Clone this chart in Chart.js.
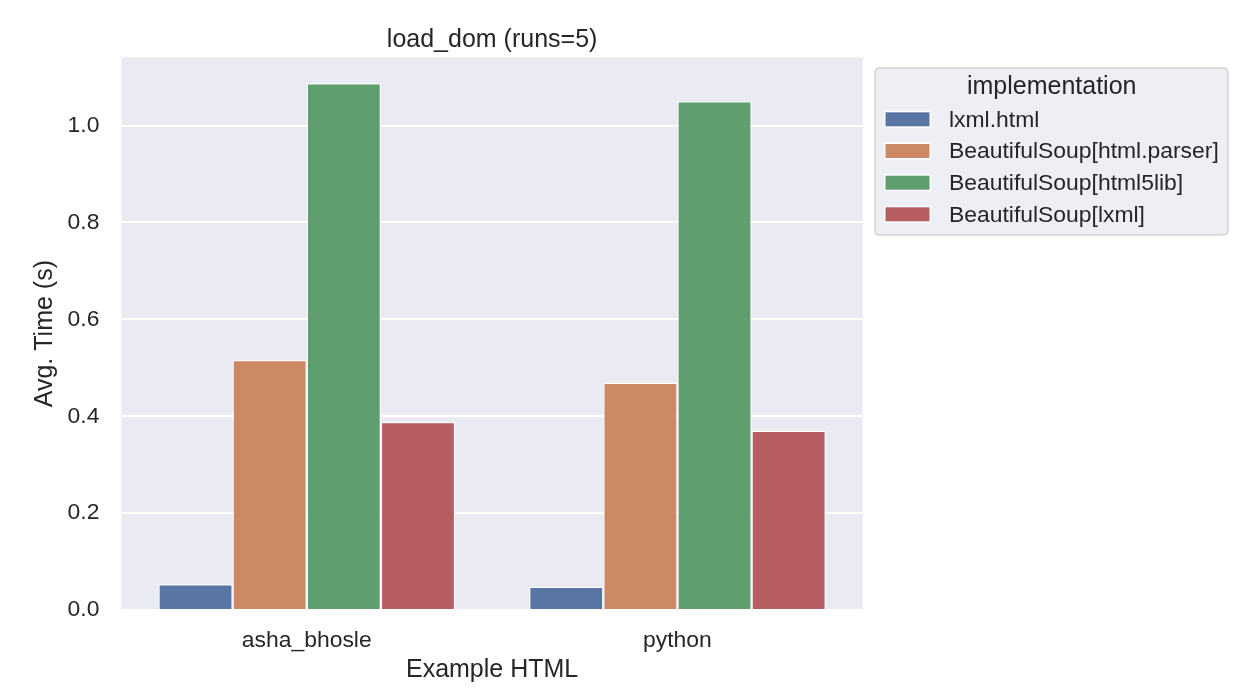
<!DOCTYPE html>
<html>
<head>
<meta charset="utf-8">
<script src="https://cdn.jsdelivr.net/npm/chart.js@4"></script>
<style>
  html, body { margin: 0; padding: 0; background: #ffffff; }
  canvas { display: block; }
</style>
</head>
<body>
<canvas id="c" width="1245" height="690"></canvas>
<script>
const categories = ['asha_bhosle', 'python'];
const seriesNames = ['lxml.html', 'BeautifulSoup[html.parser]', 'BeautifulSoup[html5lib]', 'BeautifulSoup[lxml]'];
const lxmlHtml = [0.053, 0.048];
const bsHtmlParser = [0.516, 0.469];
const bsHtml5lib = [1.0875, 1.050];
const bsLxml = [0.388, 0.370];
const yTicks = [0.0, 0.2, 0.4, 0.6, 0.8, 1.0];
const chartTitle = 'load_dom (runs=5)';
const xTitle = 'Example HTML';
const yTitle = 'Avg. Time (s)';
const legendTitle = 'implementation';
const colors = ['#5975A4', '#CC8963', '#5F9E6E', '#B55D60'];

const FONT = '"Liberation Sans", Arial, sans-serif';
const TXT = '#262626';

const seriesValues = [lxmlHtml, bsHtmlParser, bsHtml5lib, bsLxml];

const decorPlugin = {
  id: 'decor',
  beforeDraw(chart) {
    const { ctx, chartArea: a } = chart;
    ctx.save();
    ctx.fillStyle = '#EAEAF2';
    ctx.fillRect(a.left, a.top, a.right - a.left, a.bottom - a.top);
    ctx.restore();
  },
  afterDraw(chart) {
    const { ctx, chartArea: a } = chart;
    const cx = (a.left + a.right) / 2;
    ctx.save();
    ctx.fillStyle = TXT;
    // title
    ctx.font = '25px ' + FONT;
    ctx.textAlign = 'center';
    ctx.textBaseline = 'alphabetic';
    ctx.fillText(chartTitle, cx, 46.5);
    // x title
    ctx.fillText(xTitle, cx, 676.5);
    // y title
    ctx.save();
    ctx.translate(52.3, (a.top + a.bottom) / 2);
    ctx.rotate(-Math.PI / 2);
    ctx.fillText(yTitle, 0, 0);
    ctx.restore();

    // legend
    const lx = 875, ly = 68, lw = 353, lh = 167, r = 5;
    ctx.beginPath();
    ctx.moveTo(lx + r, ly);
    ctx.lineTo(lx + lw - r, ly);
    ctx.quadraticCurveTo(lx + lw, ly, lx + lw, ly + r);
    ctx.lineTo(lx + lw, ly + lh - r);
    ctx.quadraticCurveTo(lx + lw, ly + lh, lx + lw - r, ly + lh);
    ctx.lineTo(lx + r, ly + lh);
    ctx.quadraticCurveTo(lx, ly + lh, lx, ly + lh - r);
    ctx.lineTo(lx, ly + r);
    ctx.quadraticCurveTo(lx, ly, lx + r, ly);
    ctx.closePath();
    ctx.fillStyle = 'rgba(234,234,242,0.8)';
    ctx.fill();
    ctx.strokeStyle = 'rgba(204,204,204,0.8)';
    ctx.lineWidth = 1.5;
    ctx.stroke();

    ctx.fillStyle = TXT;
    ctx.font = '25px ' + FONT;
    ctx.textAlign = 'center';
    ctx.textBaseline = 'middle';
    ctx.fillText(legendTitle, 1051.7, 87);

    const rowY = [119.3, 151, 182.7, 214.3];
    ctx.font = '22.9px ' + FONT;
    ctx.textAlign = 'left';
    chart.data.datasets.forEach((ds, i) => {
      const y = rowY[i];
      ctx.fillStyle = '#ffffff';
      ctx.fillRect(884, y - 8.5, 47, 17);
      ctx.fillStyle = ds.backgroundColor;
      ctx.fillRect(885.5, y - 7, 44, 14);
      ctx.fillStyle = TXT;
      ctx.fillText(ds.label, 949, y + 1);
    });
    ctx.restore();
  }
};

new Chart(document.getElementById('c'), {
  type: 'bar',
  data: {
    labels: categories,
    datasets: seriesNames.map((name, i) => ({
      label: name,
      data: seriesValues[i],
      backgroundColor: colors[i],
      borderColor: '#ffffff',
      borderWidth: 1.2,
      categoryPercentage: 0.8,
      barPercentage: 1.0
    }))
  },
  options: {
    responsive: false,
    animation: false,
    devicePixelRatio: 1,
    layout: { padding: { left: 0, top: 57.3, right: 382.2, bottom: 0 } },
    plugins: {
      legend: { display: false },
      title: { display: false },
      tooltip: { enabled: false }
    },
    scales: {
      x: {
        grid: { display: false, drawTicks: false },
        border: { display: false },
        ticks: { font: { family: FONT, size: 22.9 }, color: TXT, padding: 17 },
        afterFit(s) { s.height = 80; }
      },
      y: {
        min: 0,
        max: 1.141,
        grid: { color: '#ffffff', lineWidth: 2, drawTicks: false },
        border: { display: false },
        ticks: {
          font: { family: FONT, size: 22.9 },
          color: TXT,
          padding: 22,
          callback: v => Number(v).toFixed(1)
        },
        afterBuildTicks(s) { s.ticks = yTicks.map(v => ({ value: v })); },
        afterFit(s) { s.width = 121.4; }
      }
    }
  },
  plugins: [decorPlugin]
});
</script>
</body>
</html>
